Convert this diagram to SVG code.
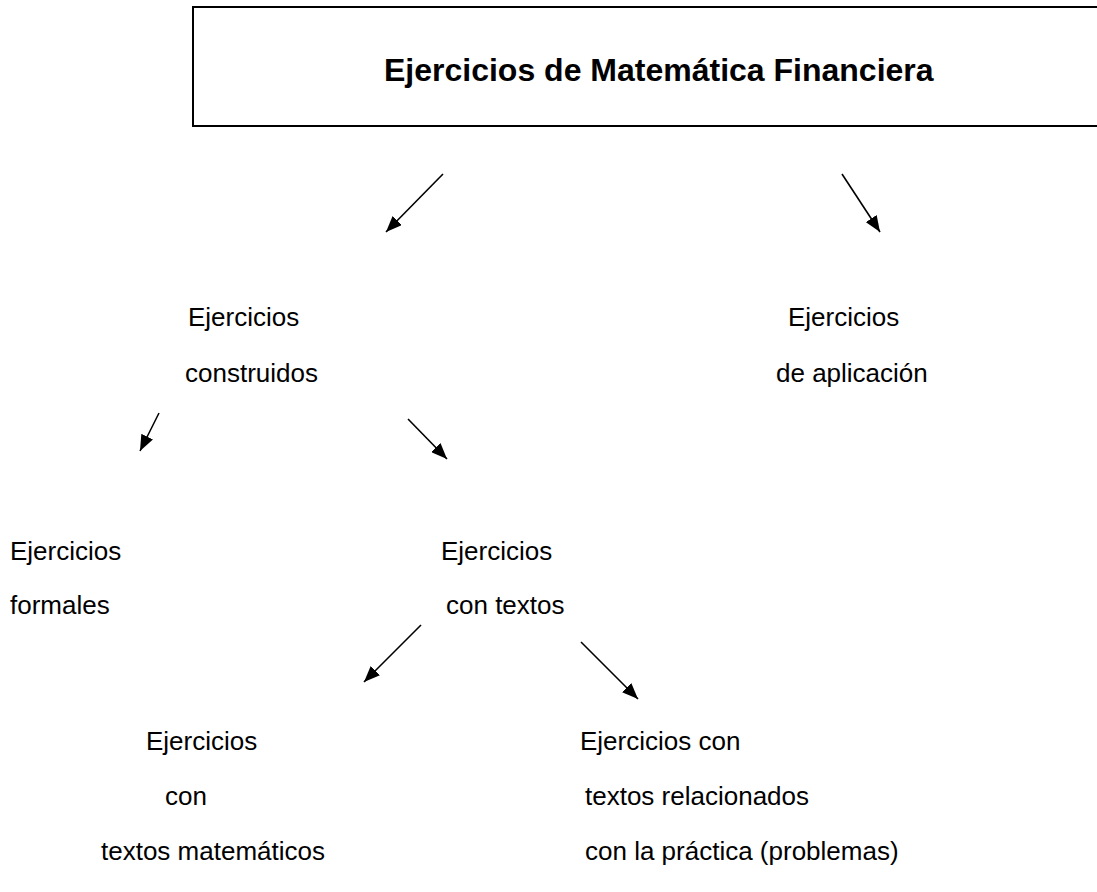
<svg xmlns="http://www.w3.org/2000/svg" width="1097" height="892" viewBox="0 0 1097 892">
<defs>
<marker id="ah" viewBox="0 0 16 13" refX="16" refY="6.5" markerWidth="16" markerHeight="13" orient="auto" markerUnits="userSpaceOnUse">
<path d="M0,0 L16,6.5 L0,13 z" fill="#000"/>
</marker>
</defs>
<style>
.t{font-family:"Liberation Sans",Arial,sans-serif;font-size:26px;fill:#000}
.b{font-weight:bold;font-size:32px}
.c{stroke:#000;stroke-width:1.6;fill:none;marker-end:url(#ah)}
</style>
<rect width="1097" height="892" fill="#fff"/>
<g id="title">
<rect x="193" y="7" width="920" height="119" fill="none" stroke="#000" stroke-width="2"/>
<text class="t b" x="384" y="81">Ejercicios de Matemática Financiera</text>
</g>
<g id="construidos">
<text class="t" x="188" y="326">Ejercicios</text>
<text class="t" x="185" y="382">construidos</text>
</g>
<g id="aplicacion">
<text class="t" x="788" y="326">Ejercicios</text>
<text class="t" x="776" y="382">de aplicación</text>
</g>
<g id="formales">
<text class="t" x="10" y="560">Ejercicios</text>
<text class="t" x="10" y="614">formales</text>
</g>
<g id="contextos">
<text class="t" x="441" y="560">Ejercicios</text>
<text class="t" x="446" y="614">con textos</text>
</g>
<g id="matematicos">
<text class="t" x="146" y="750">Ejercicios</text>
<text class="t" x="165" y="805">con</text>
<text class="t" x="101" y="860">textos matemáticos</text>
</g>
<g id="practica">
<text class="t" x="580" y="750">Ejercicios con</text>
<text class="t" x="585" y="805">textos relacionados</text>
<text class="t" x="585" y="860">con la práctica (problemas)</text>
</g>
<g id="connectors">
<line class="c" x1="443" y1="174" x2="386" y2="232"/>
<line class="c" x1="842" y1="174" x2="880" y2="232"/>
<line class="c" x1="159" y1="413" x2="140" y2="451"/>
<line class="c" x1="408" y1="419" x2="447" y2="459"/>
<line class="c" x1="421" y1="625" x2="364" y2="682"/>
<line class="c" x1="581" y1="642" x2="638" y2="699"/>
</g>
</svg>
